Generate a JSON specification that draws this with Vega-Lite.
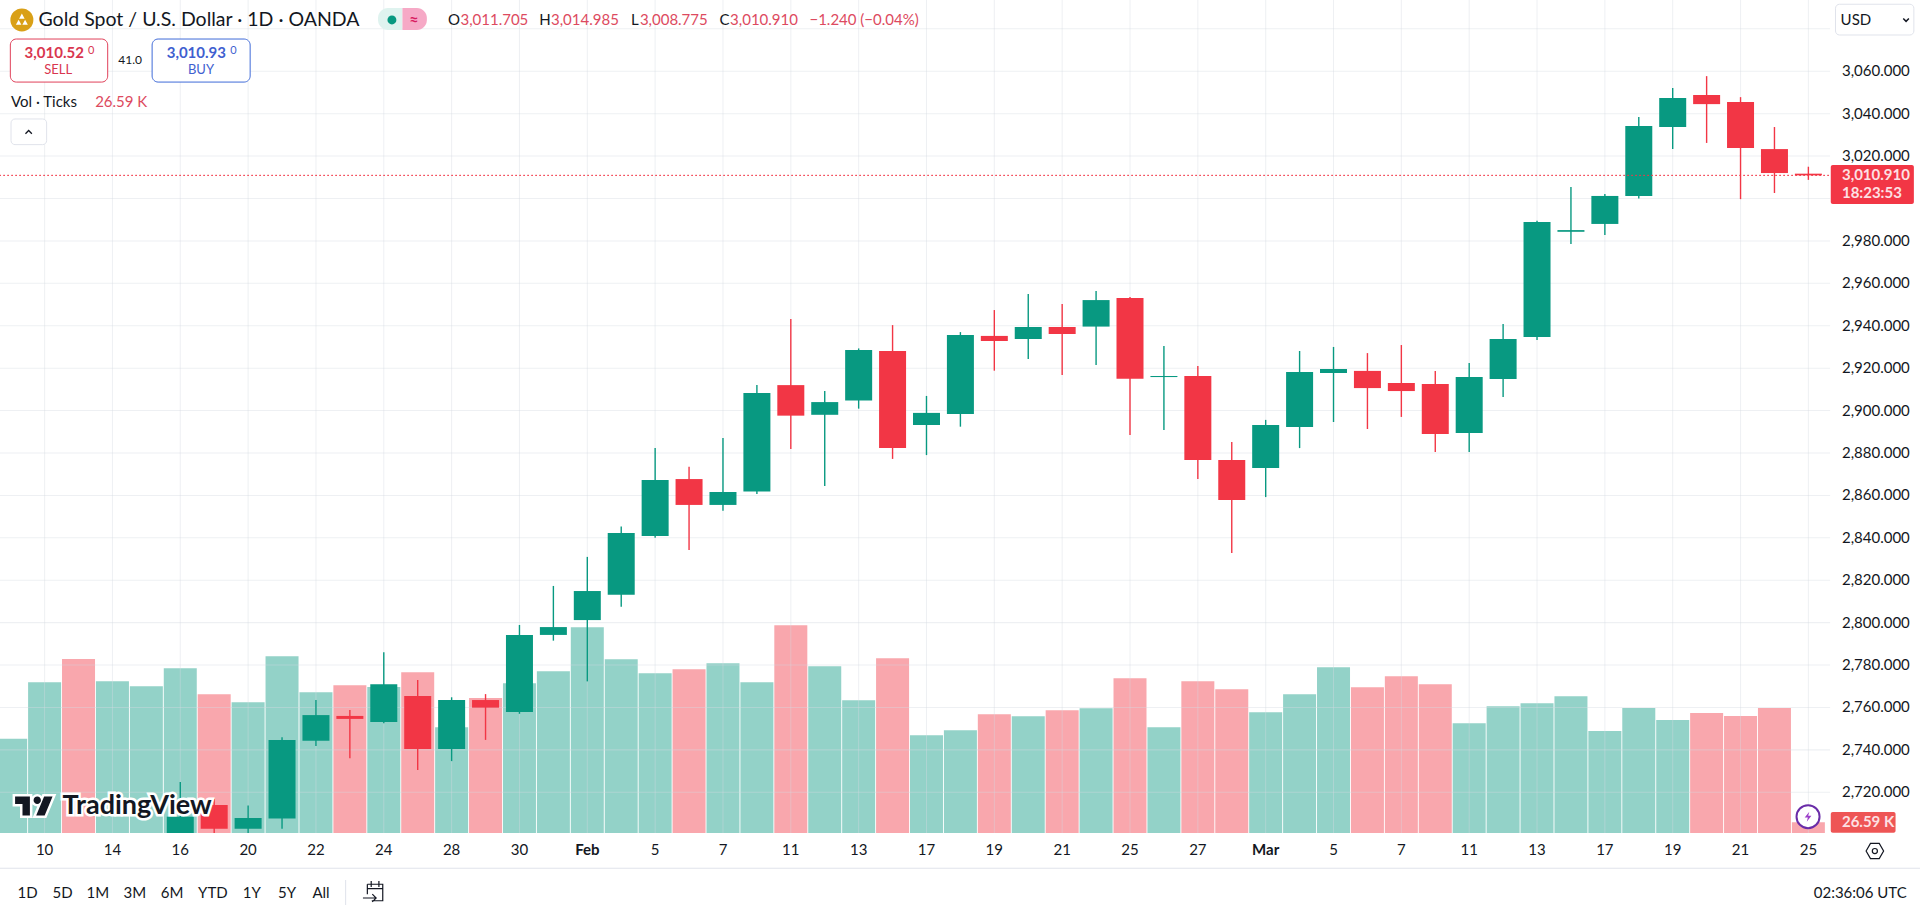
{
  "$schema": "https://vega.github.io/schema/vega-lite/v6.json",
  "width": 1830,
  "height": 833,
  "autosize": "none",
  "padding": {"left": 0, "top": 0, "right": 90, "bottom": 75},
  "background": "#ffffff",
  "config": {"view": {"stroke": null}, "text": {"font": "Lato"}, "axis": {"labelFont": "Lato"}},
  "datasets": {
    "candles": [
      {"i": 0, "day": "Jan 9", "dir": "up", "open": null, "high": null, "low": null, "close": null, "volume": 234.3},
      {"i": 1, "day": "Jan 10", "dir": "up", "open": null, "high": null, "low": null, "close": null, "volume": 374.5},
      {"i": 2, "day": "Jan 13", "dir": "down", "open": null, "high": null, "low": null, "close": null, "volume": 432.4},
      {"i": 3, "day": "Jan 14", "dir": "up", "open": null, "high": null, "low": null, "close": null, "volume": 377},
      {"i": 4, "day": "Jan 15", "dir": "up", "open": null, "high": null, "low": null, "close": null, "volume": 364.5},
      {"i": 5, "day": "Jan 16", "dir": "up", "open": 2696, "high": 2724.9, "low": 2690, "close": 2708.5, "volume": 409.3},
      {"i": 6, "day": "Jan 17", "dir": "down", "open": 2714, "high": 2717, "low": 2698, "close": 2702.8, "volume": 344.7},
      {"i": 7, "day": "Jan 20", "dir": "up", "open": 2702.8, "high": 2713.8, "low": 2698, "close": 2707.9, "volume": 324.8},
      {"i": 8, "day": "Jan 21", "dir": "up", "open": 2707.6, "high": 2746, "low": 2702.8, "close": 2744.6, "volume": 439.1},
      {"i": 9, "day": "Jan 22", "dir": "up", "open": 2744.3, "high": 2763.5, "low": 2741.8, "close": 2756.4, "volume": 349.6},
      {"i": 10, "day": "Jan 23", "dir": "down", "open": 2756, "high": 2758.8, "low": 2736, "close": 2754.6, "volume": 367},
      {"i": 11, "day": "Jan 24", "dir": "up", "open": 2753.1, "high": 2786, "low": 2752.5, "close": 2771, "volume": 362.8},
      {"i": 12, "day": "Jan 27", "dir": "down", "open": 2765.4, "high": 2773, "low": 2730.5, "close": 2740.4, "volume": 399.3},
      {"i": 13, "day": "Jan 28", "dir": "up", "open": 2740.4, "high": 2764.8, "low": 2734.7, "close": 2763.5, "volume": 262.7},
      {"i": 14, "day": "Jan 29", "dir": "down", "open": 2763.5, "high": 2766.3, "low": 2744.7, "close": 2759.9, "volume": 335.5},
      {"i": 15, "day": "Jan 30", "dir": "up", "open": 2757.8, "high": 2798.9, "low": 2757, "close": 2794.2, "volume": 372},
      {"i": 16, "day": "Jan 31", "dir": "up", "open": 2794.2, "high": 2817.3, "low": 2791.5, "close": 2797.9, "volume": 401.8},
      {"i": 17, "day": "Feb 3", "dir": "up", "open": 2801.2, "high": 2831, "low": 2772.3, "close": 2814.9, "volume": 511.2},
      {"i": 18, "day": "Feb 4", "dir": "up", "open": 2813.2, "high": 2845.3, "low": 2807.5, "close": 2842.3, "volume": 431.6},
      {"i": 19, "day": "Feb 5", "dir": "up", "open": 2840.9, "high": 2882.3, "low": 2840, "close": 2867.3, "volume": 396.9},
      {"i": 20, "day": "Feb 6", "dir": "down", "open": 2867.7, "high": 2873.5, "low": 2834.2, "close": 2855.5, "volume": 406.8},
      {"i": 21, "day": "Feb 7", "dir": "up", "open": 2855.5, "high": 2887.1, "low": 2852.8, "close": 2861.6, "volume": 421.7},
      {"i": 22, "day": "Feb 10", "dir": "up", "open": 2861.8, "high": 2912, "low": 2860.7, "close": 2908.3, "volume": 374.5},
      {"i": 23, "day": "Feb 11", "dir": "down", "open": 2912, "high": 2943.2, "low": 2881.9, "close": 2897.6, "volume": 516.1},
      {"i": 24, "day": "Feb 12", "dir": "up", "open": 2898, "high": 2909.2, "low": 2864.4, "close": 2904, "volume": 414.2},
      {"i": 25, "day": "Feb 13", "dir": "up", "open": 2904.7, "high": 2929.3, "low": 2900.9, "close": 2928.6, "volume": 329.8},
      {"i": 26, "day": "Feb 14", "dir": "down", "open": 2928.1, "high": 2940.3, "low": 2877.2, "close": 2882.3, "volume": 434.1},
      {"i": 27, "day": "Feb 17", "dir": "up", "open": 2893.2, "high": 2906.9, "low": 2879, "close": 2898.9, "volume": 242.8},
      {"i": 28, "day": "Feb 18", "dir": "up", "open": 2898.4, "high": 2937, "low": 2892.4, "close": 2935.6, "volume": 255.2},
      {"i": 29, "day": "Feb 19", "dir": "down", "open": 2935.2, "high": 2947.4, "low": 2918.8, "close": 2932.8, "volume": 295},
      {"i": 30, "day": "Feb 20", "dir": "up", "open": 2933.7, "high": 2955, "low": 2924.3, "close": 2939.4, "volume": 290},
      {"i": 31, "day": "Feb 21", "dir": "down", "open": 2939.4, "high": 2950.3, "low": 2916.8, "close": 2936.1, "volume": 304.9},
      {"i": 32, "day": "Feb 24", "dir": "up", "open": 2939.6, "high": 2956.4, "low": 2921.5, "close": 2952.1, "volume": 309.9},
      {"i": 33, "day": "Feb 25", "dir": "down", "open": 2953.1, "high": 2953.6, "low": 2888.5, "close": 2915, "volume": 384.4},
      {"i": 34, "day": "Feb 26", "dir": "up", "open": 2915.8, "high": 2930.4, "low": 2890.8, "close": 2916.3, "volume": 262.7},
      {"i": 35, "day": "Feb 27", "dir": "down", "open": 2916.3, "high": 2921, "low": 2867.7, "close": 2876.7, "volume": 377},
      {"i": 36, "day": "Feb 28", "dir": "down", "open": 2876.7, "high": 2885.2, "low": 2832.8, "close": 2857.8, "volume": 357.1},
      {"i": 37, "day": "Mar 3", "dir": "up", "open": 2872.9, "high": 2895.6, "low": 2859.2, "close": 2893.2, "volume": 299.9},
      {"i": 38, "day": "Mar 4", "dir": "up", "open": 2892.3, "high": 2928.1, "low": 2882.3, "close": 2918.2, "volume": 344.7},
      {"i": 39, "day": "Mar 5", "dir": "up", "open": 2917.7, "high": 2930, "low": 2894.6, "close": 2919.6, "volume": 411.8},
      {"i": 40, "day": "Mar 6", "dir": "down", "open": 2918.7, "high": 2927.1, "low": 2891.3, "close": 2910.6, "volume": 362.1},
      {"i": 41, "day": "Mar 7", "dir": "down", "open": 2913, "high": 2930.9, "low": 2897, "close": 2909.2, "volume": 389.4},
      {"i": 42, "day": "Mar 10", "dir": "down", "open": 2912.5, "high": 2918.7, "low": 2880.5, "close": 2889, "volume": 369.5},
      {"i": 43, "day": "Mar 11", "dir": "up", "open": 2889.4, "high": 2922.4, "low": 2880.5, "close": 2915.8, "volume": 272.6},
      {"i": 44, "day": "Mar 12", "dir": "up", "open": 2914.9, "high": 2940.8, "low": 2906.4, "close": 2933.7, "volume": 314.8},
      {"i": 45, "day": "Mar 13", "dir": "up", "open": 2934.7, "high": 2989.5, "low": 2933.3, "close": 2988.9, "volume": 322.3},
      {"i": 46, "day": "Mar 14", "dir": "up", "open": 2984.3, "high": 3005.4, "low": 2978.5, "close": 2985.1, "volume": 339.7},
      {"i": 47, "day": "Mar 17", "dir": "up", "open": 2988, "high": 3002.1, "low": 2982.8, "close": 3001.2, "volume": 253.5},
      {"i": 48, "day": "Mar 18", "dir": "up", "open": 3001.2, "high": 3038.4, "low": 3000, "close": 3034.2, "volume": 310.6},
      {"i": 49, "day": "Mar 19", "dir": "up", "open": 3033.7, "high": 3052.1, "low": 3023.3, "close": 3047.4, "volume": 280.8},
      {"i": 50, "day": "Mar 20", "dir": "down", "open": 3048.8, "high": 3057.7, "low": 3026.2, "close": 3044.5, "volume": 298.2},
      {"i": 51, "day": "Mar 21", "dir": "down", "open": 3045.5, "high": 3047.8, "low": 2999.7, "close": 3023.8, "volume": 290.7},
      {"i": 52, "day": "Mar 24", "dir": "down", "open": 3023.3, "high": 3033.7, "low": 3002.6, "close": 3012, "volume": 310.6},
      {"i": 53, "day": "Mar 25", "dir": "down", "open": 3011.705, "high": 3014.985, "low": 3008.775, "close": 3010.91, "volume": 26.59}
    ],
    "grid": [
      {"i": -0.315, "i2": 53.64, "p": 2720.24, "p2": 2719.76},
      {"i": -0.315, "i2": 53.64, "p": 2740.24, "p2": 2739.76},
      {"i": -0.315, "i2": 53.64, "p": 2760.24, "p2": 2759.76},
      {"i": -0.315, "i2": 53.64, "p": 2780.24, "p2": 2779.76},
      {"i": -0.315, "i2": 53.64, "p": 2800.24, "p2": 2799.76},
      {"i": -0.315, "i2": 53.64, "p": 2820.24, "p2": 2819.76},
      {"i": -0.315, "i2": 53.64, "p": 2840.24, "p2": 2839.76},
      {"i": -0.315, "i2": 53.64, "p": 2860.24, "p2": 2859.76},
      {"i": -0.315, "i2": 53.64, "p": 2880.24, "p2": 2879.76},
      {"i": -0.315, "i2": 53.64, "p": 2900.24, "p2": 2899.76},
      {"i": -0.315, "i2": 53.64, "p": 2920.24, "p2": 2919.76},
      {"i": -0.315, "i2": 53.64, "p": 2940.24, "p2": 2939.76},
      {"i": -0.315, "i2": 53.64, "p": 2960.24, "p2": 2959.76},
      {"i": -0.315, "i2": 53.64, "p": 2980.24, "p2": 2979.76},
      {"i": -0.315, "i2": 53.64, "p": 3000.24, "p2": 2999.76},
      {"i": -0.315, "i2": 53.64, "p": 3020.24, "p2": 3019.76},
      {"i": -0.315, "i2": 53.64, "p": 3040.24, "p2": 3039.76},
      {"i": -0.315, "i2": 53.64, "p": 3060.24, "p2": 3059.76},
      {"i": -0.315, "i2": 53.64, "p": 3080.24, "p2": 3079.76},
      {"i": 0.985, "i2": 1.015, "p": 2700.8, "p2": 3093.6},
      {"i": 2.985, "i2": 3.015, "p": 2700.8, "p2": 3093.6},
      {"i": 4.985, "i2": 5.015, "p": 2700.8, "p2": 3093.6},
      {"i": 6.985, "i2": 7.015, "p": 2700.8, "p2": 3093.6},
      {"i": 8.985, "i2": 9.015, "p": 2700.8, "p2": 3093.6},
      {"i": 10.985, "i2": 11.015, "p": 2700.8, "p2": 3093.6},
      {"i": 12.985, "i2": 13.015, "p": 2700.8, "p2": 3093.6},
      {"i": 14.985, "i2": 15.015, "p": 2700.8, "p2": 3093.6},
      {"i": 16.985, "i2": 17.015, "p": 2700.8, "p2": 3093.6},
      {"i": 18.985, "i2": 19.015, "p": 2700.8, "p2": 3093.6},
      {"i": 20.985, "i2": 21.015, "p": 2700.8, "p2": 3093.6},
      {"i": 22.985, "i2": 23.015, "p": 2700.8, "p2": 3093.6},
      {"i": 24.985, "i2": 25.015, "p": 2700.8, "p2": 3093.6},
      {"i": 26.985, "i2": 27.015, "p": 2700.8, "p2": 3093.6},
      {"i": 28.985, "i2": 29.015, "p": 2700.8, "p2": 3093.6},
      {"i": 30.985, "i2": 31.015, "p": 2700.8, "p2": 3093.6},
      {"i": 32.985, "i2": 33.015, "p": 2700.8, "p2": 3093.6},
      {"i": 34.985, "i2": 35.015, "p": 2700.8, "p2": 3093.6},
      {"i": 36.985, "i2": 37.015, "p": 2700.8, "p2": 3093.6},
      {"i": 38.985, "i2": 39.015, "p": 2700.8, "p2": 3093.6},
      {"i": 40.985, "i2": 41.015, "p": 2700.8, "p2": 3093.6},
      {"i": 42.985, "i2": 43.015, "p": 2700.8, "p2": 3093.6},
      {"i": 44.985, "i2": 45.015, "p": 2700.8, "p2": 3093.6},
      {"i": 46.985, "i2": 47.015, "p": 2700.8, "p2": 3093.6},
      {"i": 48.985, "i2": 49.015, "p": 2700.8, "p2": 3093.6},
      {"i": 50.985, "i2": 51.015, "p": 2700.8, "p2": 3093.6},
      {"i": 52.985, "i2": 53.015, "p": 2700.8, "p2": 3093.6}
    ],
    "boxes": [
      {"kind": "last", "i": -0.315, "i2": 53.64, "p": 3010.91, "p2": 3010.91},
      {"kind": "pillL", "i": 10.83, "i2": 11.55, "p": 3089.8, "p2": 3079.4},
      {"kind": "pillR", "i": 11.55, "i2": 12.27, "p": 3089.8, "p2": 3079.4},
      {"kind": "sell", "i": -0.01, "i2": 2.86, "p": 3075.2, "p2": 3054.9},
      {"kind": "buy", "i": 4.17, "i2": 7.06, "p": 3075.2, "p2": 3054.9},
      {"kind": "plain", "i": 0.01, "i2": 1.06, "p": 3037.5, "p2": 3025.4},
      {"kind": "plain", "i": 53.8, "i2": 56.11, "p": 3091.6, "p2": 3077.1},
      {"kind": "tag", "i": 53.66, "i2": 56.11, "p": 3015.78, "p2": 2997.39},
      {"kind": "volTag", "i": 53.66, "i2": 55.57, "p": 2710.7, "p2": 2700.95},
      {"kind": "divider", "i": 9.86, "i2": 9.89, "p": 2678.6, "p2": 2666.9},
      {"kind": "divider", "i": -0.315, "i2": 56.29, "p": 2684.4, "p2": 2684}
    ],
    "notes": [
      {"kind": "title", "label": "Gold Spot / U.S. Dollar · 1D · OANDA", "i": 0.82, "p": 3084.2},
      {"kind": "key", "label": "O", "i": 12.89, "p": 3084.2},
      {"kind": "key", "label": "H", "i": 15.58, "p": 3084.2},
      {"kind": "key", "label": "L", "i": 18.29, "p": 3084.2},
      {"kind": "key", "label": "C", "i": 20.9, "p": 3084.2},
      {"kind": "val", "label": "3,011.705", "i": 13.26, "p": 3084.2},
      {"kind": "val", "label": "3,014.985", "i": 15.93, "p": 3084.2},
      {"kind": "val", "label": "3,008.775", "i": 18.55, "p": 3084.2},
      {"kind": "val", "label": "3,010.910", "i": 21.21, "p": 3084.2},
      {"kind": "val", "label": "−1.240 (−0.04%)", "i": 23.55, "p": 3084.2},
      {"kind": "val", "label": "26.59 K", "i": 2.49, "p": 3045.6},
      {"kind": "key", "label": "Vol · Ticks", "i": 0.01, "p": 3045.6},
      {"kind": "key", "label": "USD", "i": 53.95, "p": 3084.2},
      {"kind": "key", "label": "3,060.000", "i": 53.99, "p": 3060},
      {"kind": "key", "label": "3,040.000", "i": 53.99, "p": 3040},
      {"kind": "key", "label": "3,020.000", "i": 53.99, "p": 3020},
      {"kind": "key", "label": "2,980.000", "i": 53.99, "p": 2980},
      {"kind": "key", "label": "2,960.000", "i": 53.99, "p": 2960},
      {"kind": "key", "label": "2,940.000", "i": 53.99, "p": 2940},
      {"kind": "key", "label": "2,920.000", "i": 53.99, "p": 2920},
      {"kind": "key", "label": "2,900.000", "i": 53.99, "p": 2900},
      {"kind": "key", "label": "2,880.000", "i": 53.99, "p": 2880},
      {"kind": "key", "label": "2,860.000", "i": 53.99, "p": 2860},
      {"kind": "key", "label": "2,840.000", "i": 53.99, "p": 2840},
      {"kind": "key", "label": "2,820.000", "i": 53.99, "p": 2820},
      {"kind": "key", "label": "2,800.000", "i": 53.99, "p": 2800},
      {"kind": "key", "label": "2,780.000", "i": 53.99, "p": 2780},
      {"kind": "key", "label": "2,760.000", "i": 53.99, "p": 2760},
      {"kind": "key", "label": "2,740.000", "i": 53.99, "p": 2740},
      {"kind": "key", "label": "2,720.000", "i": 53.99, "p": 2720},
      {"kind": "toolbar", "label": "10", "i": 1, "p": 2692.8},
      {"kind": "toolbar", "label": "14", "i": 3, "p": 2692.8},
      {"kind": "toolbar", "label": "16", "i": 5, "p": 2692.8},
      {"kind": "toolbar", "label": "20", "i": 7, "p": 2692.8},
      {"kind": "toolbar", "label": "22", "i": 9, "p": 2692.8},
      {"kind": "toolbar", "label": "24", "i": 11, "p": 2692.8},
      {"kind": "toolbar", "label": "28", "i": 13, "p": 2692.8},
      {"kind": "toolbar", "label": "30", "i": 15, "p": 2692.8},
      {"kind": "tickBold", "label": "Feb", "i": 17, "p": 2692.8},
      {"kind": "toolbar", "label": "5", "i": 19, "p": 2692.8},
      {"kind": "toolbar", "label": "7", "i": 21, "p": 2692.8},
      {"kind": "toolbar", "label": "11", "i": 23, "p": 2692.8},
      {"kind": "toolbar", "label": "13", "i": 25, "p": 2692.8},
      {"kind": "toolbar", "label": "17", "i": 27, "p": 2692.8},
      {"kind": "toolbar", "label": "19", "i": 29, "p": 2692.8},
      {"kind": "toolbar", "label": "21", "i": 31, "p": 2692.8},
      {"kind": "toolbar", "label": "25", "i": 33, "p": 2692.8},
      {"kind": "toolbar", "label": "27", "i": 35, "p": 2692.8},
      {"kind": "tickBold", "label": "Mar", "i": 37, "p": 2692.8},
      {"kind": "toolbar", "label": "5", "i": 39, "p": 2692.8},
      {"kind": "toolbar", "label": "7", "i": 41, "p": 2692.8},
      {"kind": "toolbar", "label": "11", "i": 43, "p": 2692.8},
      {"kind": "toolbar", "label": "13", "i": 45, "p": 2692.8},
      {"kind": "toolbar", "label": "17", "i": 47, "p": 2692.8},
      {"kind": "toolbar", "label": "19", "i": 49, "p": 2692.8},
      {"kind": "toolbar", "label": "21", "i": 51, "p": 2692.8},
      {"kind": "toolbar", "label": "25", "i": 53, "p": 2692.8},
      {"kind": "toolbar", "label": "1D", "i": 0.5, "p": 2672.5},
      {"kind": "toolbar", "label": "5D", "i": 1.53, "p": 2672.5},
      {"kind": "toolbar", "label": "1M", "i": 2.57, "p": 2672.5},
      {"kind": "toolbar", "label": "3M", "i": 3.66, "p": 2672.5},
      {"kind": "toolbar", "label": "6M", "i": 4.76, "p": 2672.5},
      {"kind": "toolbar", "label": "YTD", "i": 5.96, "p": 2672.5},
      {"kind": "toolbar", "label": "1Y", "i": 7.11, "p": 2672.5},
      {"kind": "toolbar", "label": "5Y", "i": 8.15, "p": 2672.5},
      {"kind": "toolbar", "label": "All", "i": 9.15, "p": 2672.5},
      {"kind": "clock", "label": "02:36:06 UTC", "i": 55.9, "p": 2672.5},
      {"kind": "sellPrice", "label": "3,010.52", "i": 0.41, "p": 3068.6},
      {"kind": "sellSup", "label": "0", "i": 2.28, "p": 3069.6},
      {"kind": "sellWord", "label": "SELL", "i": 1.4, "p": 3060.6},
      {"kind": "spread", "label": "41.0", "i": 3.52, "p": 3065.3},
      {"kind": "buyPrice", "label": "3,010.93", "i": 4.6, "p": 3068.6},
      {"kind": "buySup", "label": "0", "i": 6.47, "p": 3069.6},
      {"kind": "buyWord", "label": "BUY", "i": 5.61, "p": 3060.6},
      {"kind": "pillSign", "label": "≈", "i": 11.89, "p": 3084.2},
      {"kind": "tagText", "label": "3,010.910", "i": 53.99, "p": 3010.91},
      {"kind": "tagText", "label": "18:23:53", "i": 53.99, "p": 3002.6},
      {"kind": "tagText", "label": "26.59 K", "i": 53.99, "p": 2706},
      {"kind": "brand", "label": "TradingView", "i": 1.53, "p": 2713.5},
      {"kind": "goldIcon", "i": 0.33, "p": 3084.2},
      {"kind": "pillDot", "i": 11.24, "p": 3084.2},
      {"kind": "logo", "i": 0.69, "p": 2713.5},
      {"kind": "chevUp", "i": 0.53, "p": 3031.3},
      {"kind": "chevDown", "i": 55.88, "p": 3084.2},
      {"kind": "settings", "i": 54.96, "p": 2692.3},
      {"kind": "settingsDot", "i": 54.96, "p": 2692.3},
      {"kind": "calendar", "i": 10.71, "p": 2673},
      {"kind": "bolt", "i": 52.99, "p": 2708.5}
    ]
  },
  "resolve": {"scale": {"y": "independent"}},
  "layer": [
    {
      "data": {"name": "candles"},
      "mark": {"type": "bar", "orient": "vertical", "size": 33, "opacity": 0.44, "clip": true},
      "encoding": {
        "x": {
          "field": "i",
          "type": "quantitative",
          "axis": null,
          "scale": {"domain": [-0.1675, 53.49], "nice": false, "zero": false}
        },
        "y": {
          "field": "volume",
          "type": "quantitative",
          "stack": null,
          "axis": null,
          "scale": {"domain": [0, 2070], "nice": false}
        },
        "color": {
          "field": "dir",
          "type": "nominal",
          "legend": null,
          "scale": {"domain": ["up", "down"], "range": ["#089981", "#f23645"]}
        }
      }
    },
    {
      "layer": [
        {
          "data": {"name": "grid"},
          "mark": {"type": "rect", "fill": "#d5d9e2", "opacity": 0.4},
          "encoding": {
            "x": {"field": "i", "type": "quantitative", "axis": null},
            "x2": {"field": "i2"},
            "y": {"field": "p", "type": "quantitative", "axis": null},
            "y2": {"field": "p2"}
          }
        },
        {
          "data": {"name": "candles"},
          "mark": {"type": "rule", "strokeWidth": 1.4, "clip": true},
          "encoding": {
            "x": {"field": "i", "type": "quantitative", "axis": null},
            "y": {
              "field": "low",
              "type": "quantitative",
              "axis": null,
              "scale": {"domain": [2700.8, 3093.6], "nice": false, "zero": false}
            },
            "y2": {"field": "high"},
            "color": {"field": "dir", "type": "nominal", "legend": null}
          }
        },
        {
          "data": {"name": "candles"},
          "mark": {"type": "bar", "orient": "vertical", "size": 27, "clip": true},
          "encoding": {
            "x": {"field": "i", "type": "quantitative", "axis": null},
            "y": {"field": "open", "type": "quantitative", "axis": null},
            "y2": {"field": "close"},
            "color": {"field": "dir", "type": "nominal", "legend": null}
          }
        },
        {
          "data": {"name": "boxes"},
          "encoding": {
            "x": {"field": "i", "type": "quantitative", "axis": null},
            "x2": {"field": "i2"},
            "y": {"field": "p", "type": "quantitative", "axis": null},
            "y2": {"field": "p2"}
          },
          "layer": [
            {"transform": [{"filter": "datum.kind == 'last'"}], "mark": {"type": "rect", "fillOpacity": 0, "stroke": "#f23645", "strokeWidth": 1, "strokeDash": [1, 3]}},
            {"transform": [{"filter": "datum.kind == 'pillL'"}], "mark": {"type": "rect", "fill": "#dff3ef", "cornerRadiusTopLeft": 10, "cornerRadiusBottomLeft": 10}},
            {"transform": [{"filter": "datum.kind == 'pillR'"}], "mark": {"type": "rect", "fill": "#f6a9c6", "cornerRadiusTopRight": 10, "cornerRadiusBottomRight": 10}},
            {"transform": [{"filter": "datum.kind == 'sell'"}], "mark": {"type": "rect", "fill": "#ffffff", "stroke": "#e0415a", "strokeWidth": 1, "cornerRadius": 6}},
            {"transform": [{"filter": "datum.kind == 'buy'"}], "mark": {"type": "rect", "fill": "#ffffff", "stroke": "#3f6ad8", "strokeWidth": 1, "cornerRadius": 6}},
            {"transform": [{"filter": "datum.kind == 'plain'"}], "mark": {"type": "rect", "fill": "#ffffff", "stroke": "#e0e3eb", "strokeWidth": 1, "cornerRadius": 4}},
            {"transform": [{"filter": "datum.kind == 'tag'"}], "mark": {"type": "rect", "fill": "#f23645", "cornerRadius": 2}},
            {"transform": [{"filter": "datum.kind == 'volTag'"}], "mark": {"type": "rect", "fill": "#ee5555", "cornerRadius": 2}},
            {"transform": [{"filter": "datum.kind == 'divider'"}], "mark": {"type": "rect", "fill": "#e0e3eb"}}
          ]
        },
        {
          "data": {"name": "notes"},
          "encoding": {
            "x": {"field": "i", "type": "quantitative", "axis": null},
            "y": {"field": "p", "type": "quantitative", "axis": null},
            "text": {"field": "label"}
          },
          "layer": [
            {"transform": [{"filter": "datum.kind == 'title'"}], "mark": {"type": "text", "align": "left", "baseline": "middle", "fontSize": 19.5, "fill": "#131722"}},
            {"transform": [{"filter": "datum.kind == 'key'"}], "mark": {"type": "text", "align": "left", "baseline": "middle", "fontSize": 15, "fill": "#131722"}},
            {"transform": [{"filter": "datum.kind == 'val'"}], "mark": {"type": "text", "align": "left", "baseline": "middle", "fontSize": 15, "fill": "#dd4a60"}},
            {"transform": [{"filter": "datum.kind == 'toolbar'"}], "mark": {"type": "text", "align": "center", "baseline": "middle", "fontSize": 15, "fill": "#131722"}},
            {"transform": [{"filter": "datum.kind == 'tickBold'"}], "mark": {"type": "text", "align": "center", "baseline": "middle", "fontSize": 15, "fontWeight": "bold", "fill": "#131722"}},
            {"transform": [{"filter": "datum.kind == 'clock'"}], "mark": {"type": "text", "align": "right", "baseline": "middle", "fontSize": 15, "fill": "#131722"}},
            {"transform": [{"filter": "datum.kind == 'sellPrice'"}], "mark": {"type": "text", "align": "left", "baseline": "middle", "fontSize": 15, "fontWeight": "bold", "fill": "#d9364f"}},
            {"transform": [{"filter": "datum.kind == 'sellSup'"}], "mark": {"type": "text", "align": "left", "baseline": "middle", "fontSize": 11, "fill": "#d9364f"}},
            {"transform": [{"filter": "datum.kind == 'sellWord'"}], "mark": {"type": "text", "align": "center", "baseline": "middle", "fontSize": 13, "fill": "#d9364f"}},
            {"transform": [{"filter": "datum.kind == 'spread'"}], "mark": {"type": "text", "align": "center", "baseline": "middle", "fontSize": 12, "fill": "#131722"}},
            {"transform": [{"filter": "datum.kind == 'buyPrice'"}], "mark": {"type": "text", "align": "left", "baseline": "middle", "fontSize": 15, "fontWeight": "bold", "fill": "#3f5fd0"}},
            {"transform": [{"filter": "datum.kind == 'buySup'"}], "mark": {"type": "text", "align": "left", "baseline": "middle", "fontSize": 11, "fill": "#3f5fd0"}},
            {"transform": [{"filter": "datum.kind == 'buyWord'"}], "mark": {"type": "text", "align": "center", "baseline": "middle", "fontSize": 13, "fill": "#3f5fd0"}},
            {"transform": [{"filter": "datum.kind == 'pillSign'"}], "mark": {"type": "text", "align": "center", "baseline": "middle", "fontSize": 16, "fontWeight": "bold", "fill": "#d81b60"}},
            {"transform": [{"filter": "datum.kind == 'tagText'"}], "mark": {"type": "text", "align": "left", "baseline": "middle", "fontSize": 15, "fontWeight": "bold", "fill": "#fde0e3"}},
            {"transform": [{"filter": "datum.kind == 'brand'"}], "mark": {"type": "text", "align": "left", "baseline": "middle", "fontSize": 27, "fontWeight": "bold", "stroke": "#ffffff", "strokeWidth": 5, "fill": "#ffffff"}},
            {"transform": [{"filter": "datum.kind == 'brand'"}], "mark": {"type": "text", "align": "left", "baseline": "middle", "fontSize": 27, "fontWeight": "bold", "fill": "#131722"}},
            {"transform": [{"filter": "datum.kind == 'goldIcon'"}], "mark": {"type": "point", "shape": "circle", "size": 529, "filled": true, "fill": "#d9a017", "opacity": 1}},
            {"transform": [{"filter": "datum.kind == 'goldIcon'"}], "mark": {"type": "point", "shape": "M0 -0.55L0.24 -0.1H-0.24ZM-0.28 -0.02L-0.04 0.42H-0.52ZM0.28 -0.02L0.52 0.42H0.04Z", "size": 529, "filled": true, "fill": "#ffffff", "opacity": 1}},
            {"transform": [{"filter": "datum.kind == 'pillDot'"}], "mark": {"type": "point", "shape": "circle", "size": 80, "filled": true, "fill": "#089981", "opacity": 1}},
            {"transform": [{"filter": "datum.kind == 'logo'"}], "mark": {"type": "point", "shape": "M-0.22 -0.5H-1V-0.11H-0.61V0.5H-0.22ZM0.556 0.5H0.111L0.528 -0.5H0.972ZM0.361 -0.306A0.194 0.194 0 1 0 -0.027 -0.306A0.194 0.194 0 1 0 0.361 -0.306Z", "size": 1444, "filled": true, "fill": "#ffffff", "stroke": "#ffffff", "strokeWidth": 5, "opacity": 1}},
            {"transform": [{"filter": "datum.kind == 'logo'"}], "mark": {"type": "point", "shape": "M-0.22 -0.5H-1V-0.11H-0.61V0.5H-0.22ZM0.556 0.5H0.111L0.528 -0.5H0.972ZM0.361 -0.306A0.194 0.194 0 1 0 -0.027 -0.306A0.194 0.194 0 1 0 0.361 -0.306Z", "size": 1444, "filled": true, "fill": "#131722", "opacity": 1}},
            {"transform": [{"filter": "datum.kind == 'chevUp'"}], "mark": {"type": "point", "shape": "M-0.8 0.4L0 -0.4L0.8 0.4", "size": 64, "filled": false, "stroke": "#131722", "strokeWidth": 1.3, "opacity": 1}},
            {"transform": [{"filter": "datum.kind == 'chevDown'"}], "mark": {"type": "point", "shape": "M-0.8 -0.4L0 0.4L0.8 -0.4", "size": 49, "filled": false, "stroke": "#131722", "strokeWidth": 1.5, "opacity": 1}},
            {"transform": [{"filter": "datum.kind == 'settings'"}], "mark": {"type": "point", "shape": "M-1 0L-0.5 -0.87H0.5L1 0L0.5 0.87H-0.5Z", "size": 306, "filled": false, "stroke": "#131722", "strokeWidth": 1.2, "opacity": 1}},
            {"transform": [{"filter": "datum.kind == 'settingsDot'"}], "mark": {"type": "point", "shape": "circle", "size": 26, "filled": false, "stroke": "#131722", "strokeWidth": 1.2, "opacity": 1}},
            {"transform": [{"filter": "datum.kind == 'calendar'"}], "mark": {"type": "point", "shape": "M-0.6 -0.7H0.8V0.8H-0.2M-0.6 -0.7V0.2M-0.6 -0.3H0.8M-0.25 -1V-0.45M0.45 -1V-0.45M-1 0.55H0.2M-0.15 0.2L0.2 0.55L-0.15 0.9", "size": 484, "filled": false, "stroke": "#131722", "strokeWidth": 1.2, "opacity": 1}},
            {"transform": [{"filter": "datum.kind == 'bolt'"}], "mark": {"type": "point", "shape": "circle", "size": 530, "filled": true, "fill": "#ffffff", "stroke": "#6a2ca8", "strokeWidth": 2, "opacity": 1}},
            {"transform": [{"filter": "datum.kind == 'bolt'"}], "mark": {"type": "point", "shape": "M0.15 -0.6L-0.4 0.1H-0.02L-0.15 0.6L0.4 -0.1H0.02Z", "size": 280, "filled": true, "fill": "#9c3fc9", "opacity": 1}}
          ]
        }
      ]
    }
  ]
}
